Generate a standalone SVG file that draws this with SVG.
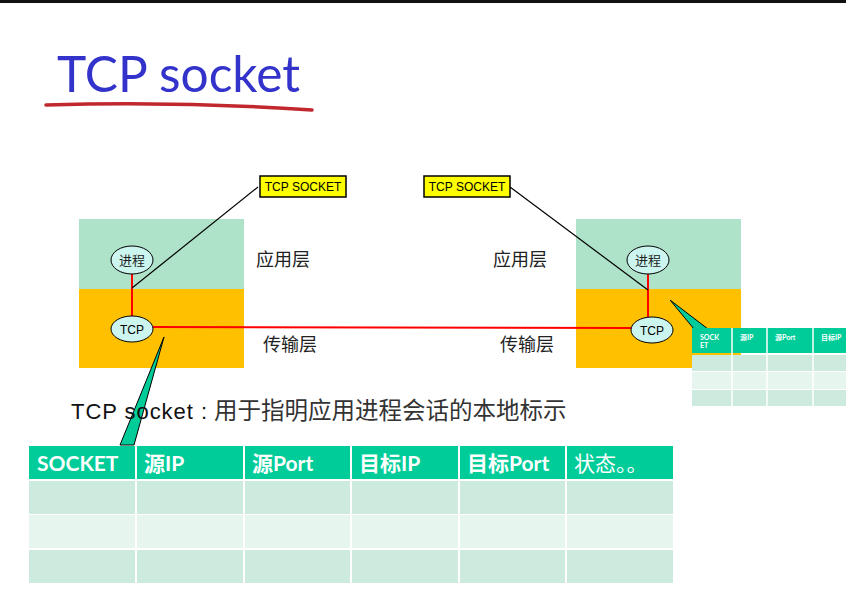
<svg xmlns="http://www.w3.org/2000/svg" width="846" height="598" viewBox="0 0 846 598">
<style>
.cn{font-family:"Noto Sans CJK SC","Noto Sans",sans-serif;fill:#222}
.lbl{font-family:"Liberation Sans","Noto Sans CJK SC",sans-serif;font-size:12px;fill:#000}
.node{fill:#ccf5f0;stroke:#000;stroke-width:1}
.red{stroke:#ff0000;stroke-width:2;fill:none}
.blk{stroke:#000;stroke-width:1.2;fill:none}
.ysb{fill:#ffff00;stroke:#000;stroke-width:1.5}
.app{fill:#aee2c9}
.tr{fill:#ffc000}
.hd{fill:#00cc99}
.r1{fill:#cceadd}
.r2{fill:#e6f5ed}
.th{font-family:"Lato","Noto Sans CJK SC",sans-serif;font-weight:bold;fill:#fff}
.call{fill:#00cc99;stroke:#000;stroke-width:1}
</style>
<rect x="0" y="0" width="846" height="598" fill="#fff"/>
<rect x="0" y="0" width="846" height="3" fill="#111"/>
<g id="title">
<text x="57" y="92" font-family="Lato,'Liberation Sans',sans-serif" font-size="50" fill="#3333cc" textLength="243" lengthAdjust="spacingAndGlyphs">TCP socket</text>
<path d="M46,105 Q180,101 312,110" stroke="#c0282d" stroke-width="3.5" fill="none" stroke-linecap="round"/>
</g>
<g id="left-host">
<rect class="app" x="79" y="219" width="165" height="70"/>
<rect class="tr" x="79" y="289" width="165" height="79"/>
</g>
<g id="right-host">
<rect class="app" x="576" y="219" width="165" height="70"/>
<rect class="tr" x="576" y="289" width="165" height="79"/>
</g>
<g id="connectors">
<line class="red" x1="132" y1="274" x2="132" y2="316"/>
<line class="red" x1="648" y1="274" x2="648" y2="317"/>
<line class="red" x1="153" y1="327" x2="632" y2="328"/>
<line class="blk" x1="132" y1="288" x2="258" y2="187"/>
<line class="blk" x1="510" y1="187" x2="648" y2="290"/>
<polygon class="call" points="164,337 120,445 134,445"/>
<polygon class="call" points="670,300 694,329 708,329"/>
</g>
<g id="left-process"><ellipse class="node" cx="132" cy="260" rx="21" ry="14"/><text class="cn" x="132" y="265" font-size="13" text-anchor="middle">进程</text></g>
<g id="left-tcp"><ellipse class="node" cx="132" cy="329" rx="21" ry="13"/><text class="lbl" x="132" y="334" font-size="13" text-anchor="middle">TCP</text></g>
<g id="right-process"><ellipse class="node" cx="648" cy="260" rx="21" ry="14"/><text class="cn" x="648" y="265" font-size="13" text-anchor="middle">进程</text></g>
<g id="right-tcp"><ellipse class="node" cx="652" cy="330" rx="21" ry="13"/><text class="lbl" x="652" y="335" font-size="13" text-anchor="middle">TCP</text></g>
<g id="left-socket"><rect class="ysb" x="260" y="176" width="86" height="21"/><text class="lbl" x="303" y="191" text-anchor="middle">TCP SOCKET</text></g>
<g id="right-socket"><rect class="ysb" x="424" y="176" width="86" height="21"/><text class="lbl" x="467" y="191" text-anchor="middle">TCP SOCKET</text></g>
<g id="layer-labels" class="cn" font-size="18">
<text x="256" y="266">应用层</text>
<text x="493" y="266">应用层</text>
<text x="263" y="351">传输层</text>
<text x="500" y="351">传输层</text>
</g>
<text x="71" y="419" font-family="'Liberation Sans','Noto Sans CJK SC',sans-serif" font-size="22" fill="#111" textLength="136" lengthAdjust="spacing">TCP socket :</text>
<text x="214" y="419" font-family="'Noto Sans CJK SC',sans-serif" font-size="23.5" fill="#333">用于指明应用进程会话的本地标示</text>
<g id="small-table">
<rect class="hd" x="692" y="328" width="154" height="25"/>
<rect class="r1" x="692" y="355" width="154" height="16"/>
<rect class="r2" x="692" y="372" width="154" height="17"/>
<rect class="r1" x="692" y="390" width="154" height="16"/>
<g stroke="#fff" stroke-width="1.5">
<line x1="732" y1="328" x2="732" y2="406"/><line x1="767" y1="328" x2="767" y2="406"/><line x1="813" y1="328" x2="813" y2="406"/>
</g>
<g class="th" font-size="7"><text x="700" y="340">SOCK</text><text x="700" y="348">ET</text><text x="740" y="340">源IP</text><text x="775" y="340">源Port</text><text x="821" y="340">目标IP</text></g>
</g>
<g id="main-table">
<rect class="hd" x="29" y="446" width="644" height="33"/>
<rect class="r1" x="29" y="481" width="644" height="33"/>
<rect class="r2" x="29" y="515" width="644" height="33"/>
<rect class="r1" x="29" y="550" width="644" height="33"/>
<g stroke="#fff" stroke-width="2">
<line x1="136" y1="446" x2="136" y2="583"/><line x1="244" y1="446" x2="244" y2="583"/><line x1="351" y1="446" x2="351" y2="583"/><line x1="459" y1="446" x2="459" y2="583"/><line x1="566" y1="446" x2="566" y2="583"/>
</g>
<g class="th" font-size="21">
<text x="37" y="471">SOCKET</text>
<text x="144" y="471">源IP</text>
<text x="252" y="471">源Port</text>
<text x="359" y="471">目标IP</text>
<text x="467" y="471">目标Port</text>
<text x="574" y="471" font-weight="normal">状态。。</text>
</g>
</g>
</svg>
